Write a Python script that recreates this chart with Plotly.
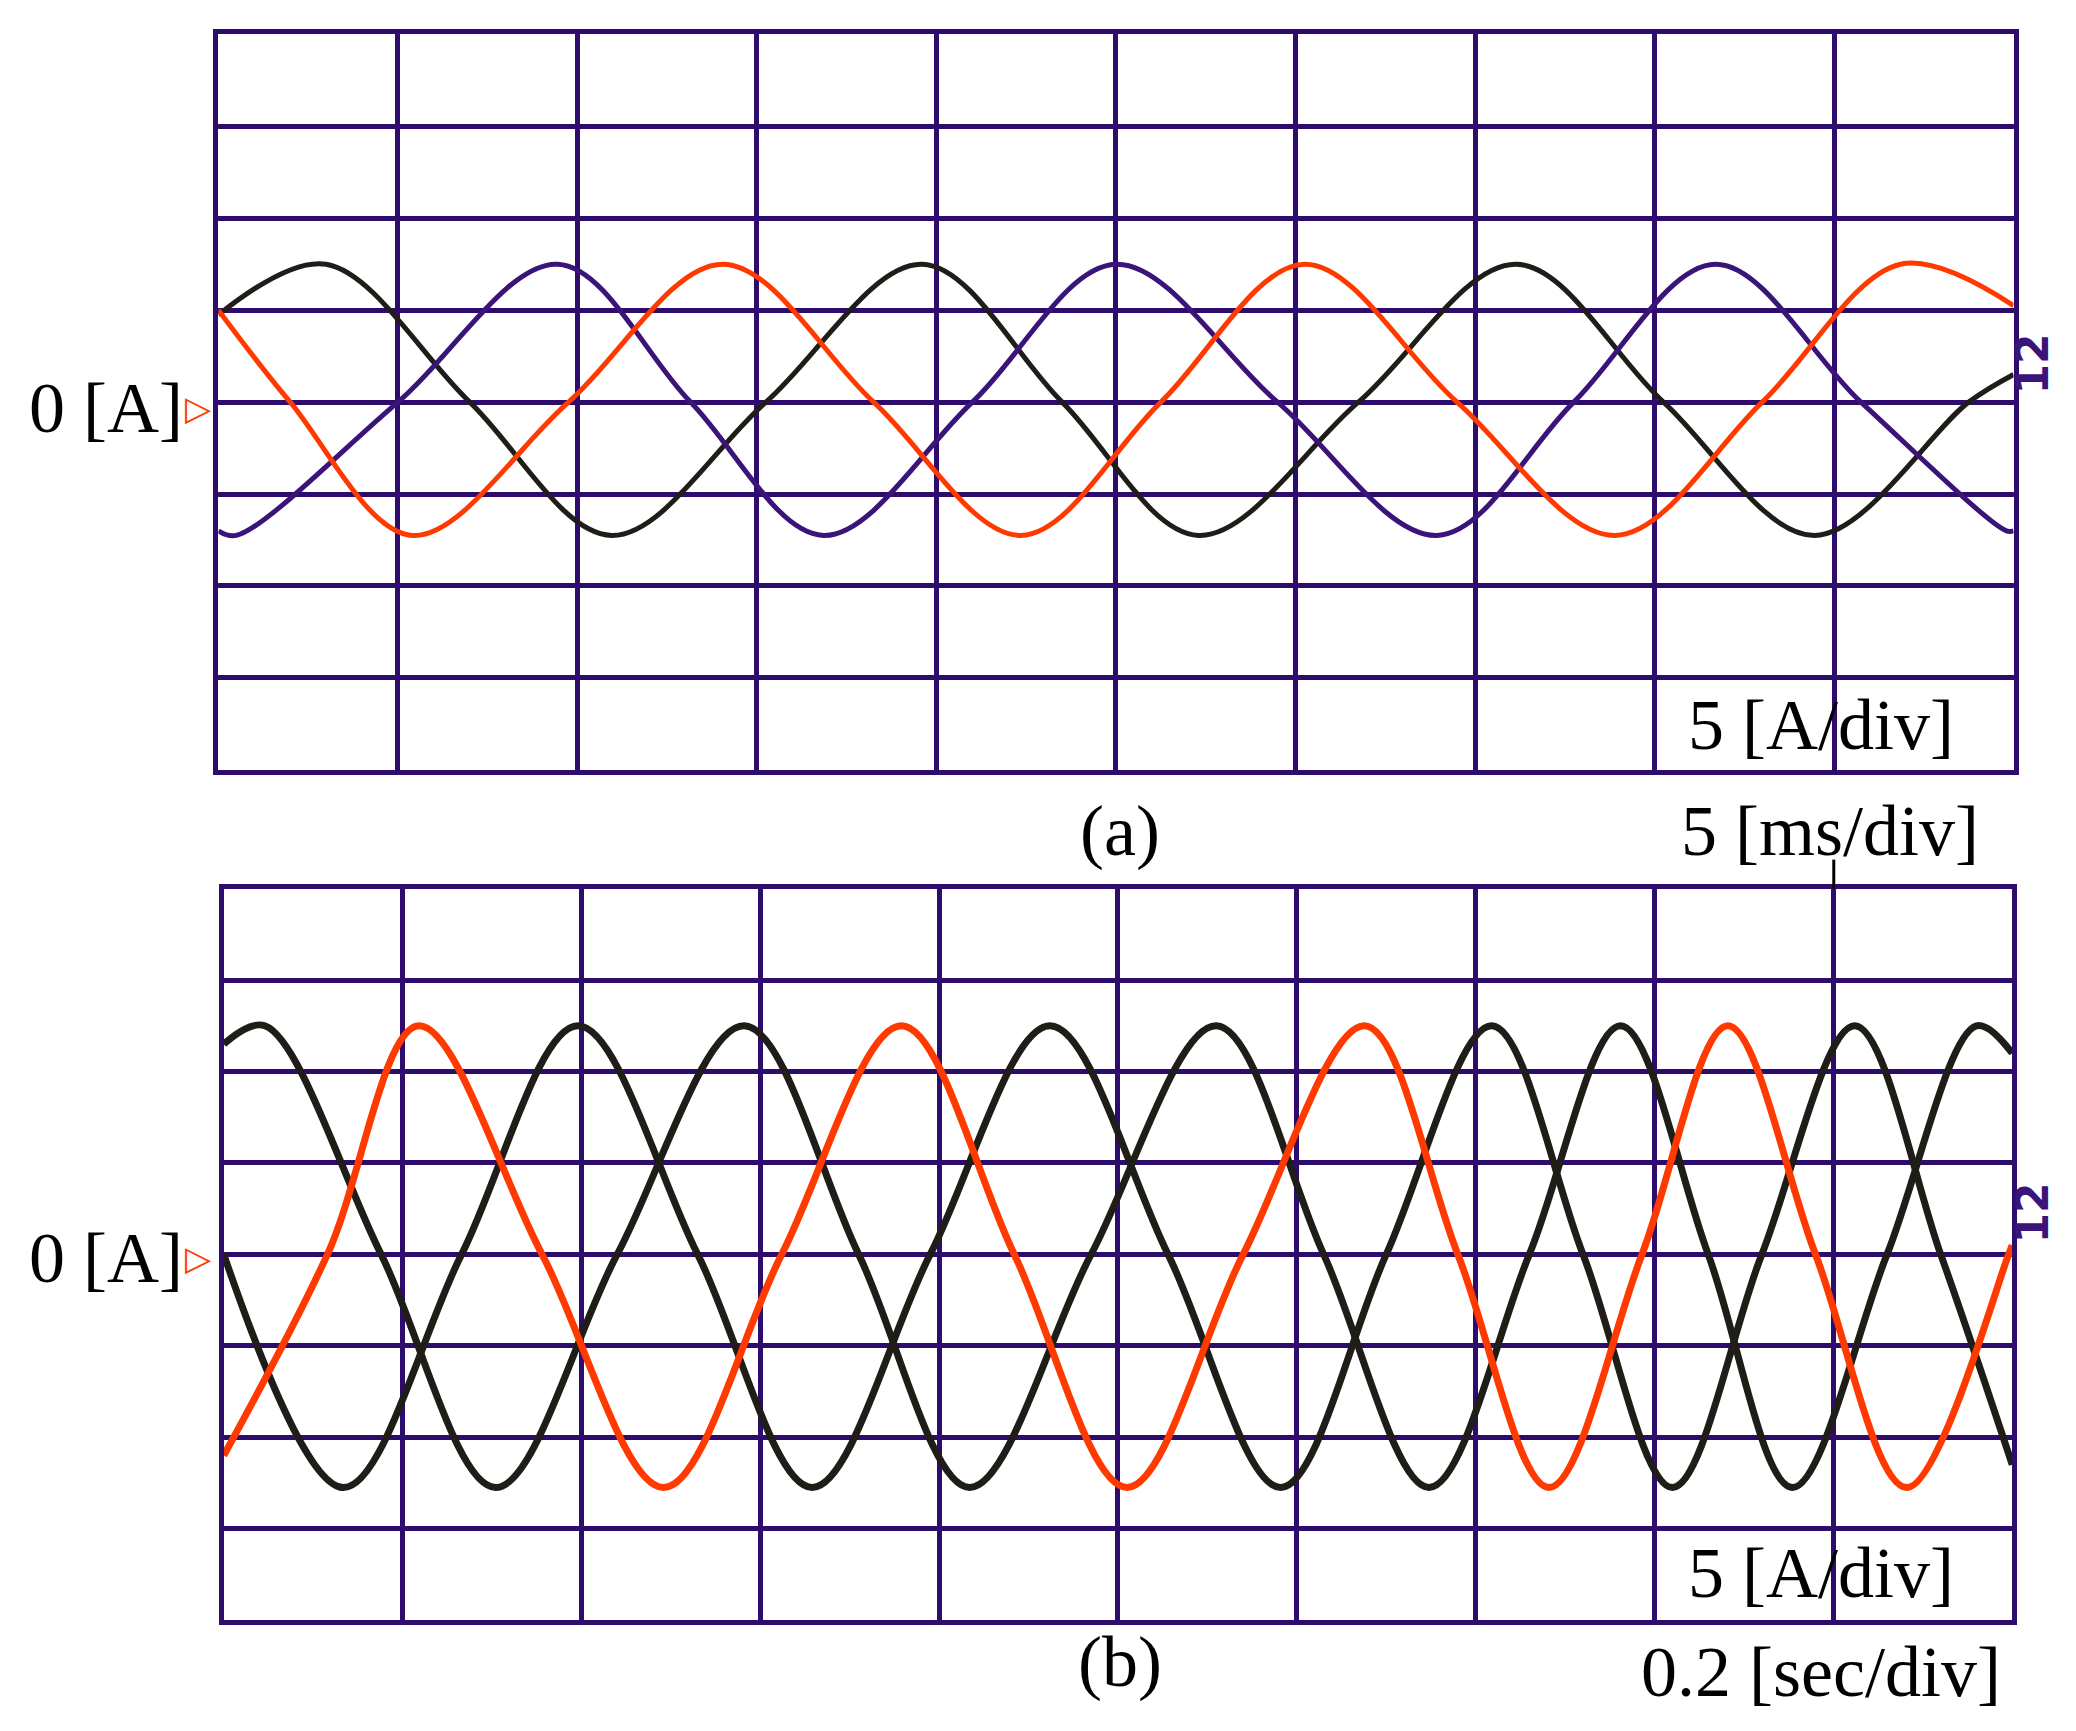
import plotly.graph_objects as go

W, H = 2076, 1731
# ---- data (divisions) ----
a_black_x = [0, 0.60, 1.40, 2.19, 3.05, 3.92, 4.70, 5.46, 6.35, 7.23, 8.05, 8.89, 9.75, 10]
a_black_y = [0.95, 1.5, 0, -1.45, 0, 1.5, 0, -1.45, 0, 1.5, 0, -1.45, 0, 0.3]
a_purple_x = [0, 0.10, 1.00, 1.89, 2.63, 3.37, 4.20, 5.00, 5.90, 6.79, 7.55, 8.34, 9.15, 9.96, 10]
a_purple_y = [-1.4, -1.45, 0, 1.5, 0, -1.45, 0, 1.5, 0, -1.45, 0, 1.5, 0, -1.4, -1.4]
a_orange_x = [0, 0.40, 1.08, 1.95, 2.81, 3.65, 4.47, 5.25, 6.05, 6.90, 7.78, 8.60, 9.37, 10]
a_orange_y = [1.0, 0, -1.45, 0, 1.5, 0, -1.45, 0, 1.5, 0, -1.45, 0, 1.5, 1.05]

b_blackA_x = [0, 0.23, 0.88, 1.52, 2.20, 2.91, 3.55, 4.17, 4.85, 5.55, 6.15, 6.74, 7.30, 7.81, 8.30, 8.77, 9.30, 9.80, 10]
b_blackA_y = [2.3, 2.5, 0, -2.55, 0, 2.5, 0, -2.55, 0, 2.5, 0, -2.55, 0, 2.5, 0, -2.55, 0, 2.5, 2.2]
b_blackB_x = [0, 0.67, 1.33, 1.98, 2.65, 3.29, 3.95, 4.62, 5.28, 5.91, 6.50, 7.09, 7.60, 8.10, 8.60, 9.12, 9.60, 10]
b_blackB_y = [0, -2.55, 0, 2.5, 0, -2.55, 0, 2.5, 0, -2.55, 0, 2.5, 0, -2.55, 0, 2.5, 0, -2.3]
b_orange_x = [0, 0.58, 1.09, 1.78, 2.46, 3.12, 3.79, 4.42, 5.05, 5.70, 6.38, 6.90, 7.41, 7.93, 8.41, 8.90, 9.41, 9.98, 10]
b_orange_y = [-2.2, 0, 2.5, 0, -2.55, 0, 2.5, 0, -2.55, 0, 2.5, 0, -2.55, 0, 2.5, 0, -2.55, 0, 0.1]

BLACK = "#1f1d18"; PURPLE = "#3a1478"; ORANGE = "#ff3a00"; GRID = "#2e0c6e"

fig = go.Figure()
def tr(x, y, c, w, ax):
    fig.add_trace(go.Scatter(x=x, y=y, mode="lines", line=dict(color=c, width=w, shape="spline", smoothing=1.0),
                             xaxis="x" + ax, yaxis="y" + ax, showlegend=False, hoverinfo="skip"))
tr(a_black_x, a_black_y, BLACK, 5, "")
tr(a_purple_x, a_purple_y, PURPLE, 5, "")
tr(a_orange_x, a_orange_y, ORANGE, 5, "")
tr(b_blackA_x, b_blackA_y, BLACK, 7, "2")
tr(b_blackB_x, b_blackB_y, BLACK, 7, "2")
tr(b_orange_x, b_orange_y, ORANGE, 7, "2")

# positions given in reference display units, mapped to page pixels
def ox(xd): return (xd - 3.8) / 0.7565
def oy(yd): return (yd - 5) / 0.7574
def px(xd): return ox(xd) / W
def py(yd): return 1 - oy(yd) / H
ax_common = dict(showticklabels=False, ticks="", zeroline=False, showgrid=True, gridcolor=GRID, gridwidth=5,
                 dtick=1, showline=True, linecolor=GRID, linewidth=5, mirror=True, fixedrange=True)
fig.update_layout(
    width=W, height=H, margin=dict(l=0, r=0, t=0, b=0), paper_bgcolor="white", plot_bgcolor="white",
    xaxis=dict(domain=[px(163), px(1521)], range=[0, 10], anchor="y", **ax_common),
    yaxis=dict(domain=[py(582), py(25)], range=[-4, 4], anchor="x", **ax_common),
    xaxis2=dict(domain=[px(167), px(1520)], range=[0, 10], anchor="y2", **ax_common),
    yaxis2=dict(domain=[py(1226), py(672)], range=[-4, 4], anchor="x2", **ax_common),
)
F = "Liberation Serif, Times New Roman, serif"
def txt(t, x, y, size=72, color="black", font=F, angle=0):
    fig.add_annotation(text=t, x=px(x), y=py(y), xref="paper", yref="paper", showarrow=False,
                       font=dict(family=font, size=size, color=color), textangle=angle,
                       xanchor="center", yanchor="middle")
txt("0 [A]", 78, 308); txt("0 [A]", 78, 952)
txt("▷", 148, 308, 34, ORANGE, "DejaVu Sans"); txt("▷", 148, 952, 34, ORANGE, "DejaVu Sans")
txt("5 [A/div]", 1375, 548); txt("5 [A/div]", 1375, 1190)
txt("(a)", 845, 628); txt("5 [ms/div]", 1382, 628)
txt("(b)", 845, 1258); txt("0.2 [sec/div]", 1375, 1265)
txt("<b>12</b>", 1535, 275, 44, PURPLE, "DejaVu Sans", -90); txt("<b>12</b>", 1535, 918, 44, PURPLE, "DejaVu Sans", -90)
fig.add_shape(type="line", xref="paper", yref="paper", x0=px(1385), x1=px(1385), y0=py(650), y1=py(672),
              line=dict(color="black", width=3))
fig.write_html("out.html")
